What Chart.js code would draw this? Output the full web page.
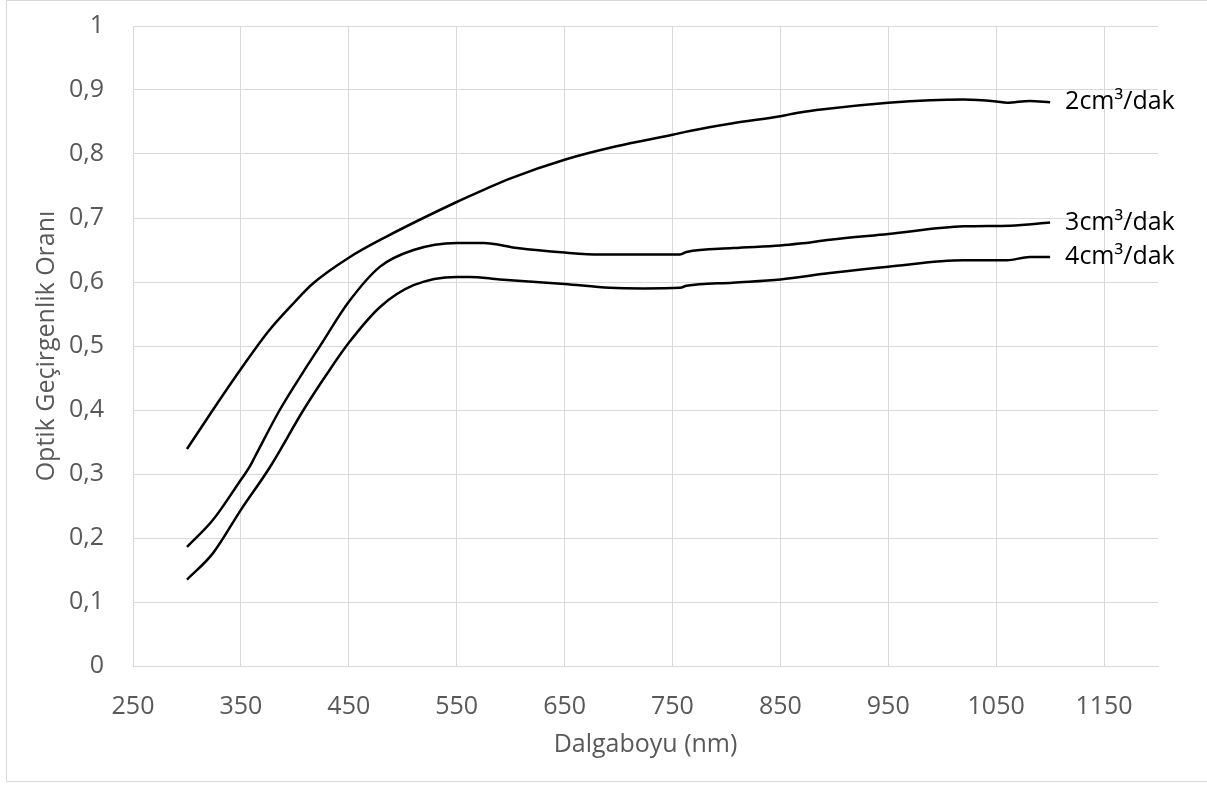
<!DOCTYPE html>
<html>
<head>
<meta charset="utf-8">
<script src="https://cdn.jsdelivr.net/npm/chart.js@4/dist/chart.umd.min.js"></script>
<style>
  html, body { margin: 0; padding: 0; background: #ffffff; }
  #wrap { position: relative; width: 1207px; height: 785px; }
</style>
</head>
<body>
<div id="wrap"><canvas id="c" width="1207" height="785"></canvas></div>
<script>
// ---- data ----
const seriesNames = ["2cm³/dak", "3cm³/dak", "4cm³/dak"];

const wl2 = [300, 324, 350, 375, 400, 417, 450, 485, 550, 575, 600, 650, 698, 750, 766, 806, 850, 868, 890, 950, 989, 1020, 1050, 1060, 1081, 1100];
const val2 = [0.339, 0.400, 0.464, 0.522, 0.569, 0.598, 0.638, 0.671, 0.725, 0.744, 0.762, 0.791, 0.812, 0.830, 0.836, 0.848, 0.859, 0.865, 0.870, 0.880, 0.884, 0.885, 0.882, 0.880, 0.883, 0.881];

const wl3 = [300, 324, 350, 358, 363, 386, 408, 423, 450, 479, 510, 550, 575, 606, 650, 683, 757, 763, 806, 850, 868, 896, 950, 1020, 1063, 1100];
const val3 = [0.186, 0.228, 0.291, 0.311, 0.327, 0.400, 0.460, 0.499, 0.569, 0.624, 0.650, 0.661, 0.661, 0.653, 0.646, 0.643, 0.643, 0.647, 0.653, 0.657, 0.660, 0.666, 0.675, 0.687, 0.688, 0.693];

const wl4 = [300, 324, 350, 377, 408, 430, 450, 479, 510, 550, 562, 590, 650, 692, 723, 757, 763, 806, 850, 896, 950, 1020, 1060, 1081, 1100];
const val4 = [0.135, 0.176, 0.244, 0.311, 0.400, 0.457, 0.505, 0.561, 0.595, 0.608, 0.608, 0.604, 0.597, 0.591, 0.590, 0.591, 0.594, 0.599, 0.604, 0.614, 0.624, 0.634, 0.634, 0.639, 0.639];

const xTicks = [250, 350, 450, 550, 650, 750, 850, 950, 1050, 1150];
const yTicks = [0, 0.1, 0.2, 0.3, 0.4, 0.5, 0.6, 0.7, 0.8, 0.9, 1];

const xTitle = "Dalgaboyu (nm)";
const yTitle = "Optik Geçirgenlik Oranı";

// ---- chart ----
const FONT = "'Open Sans', 'DejaVu Sans', sans-serif";
const GREY = "#595959";
const GRID = "#d9d9d9";

function pts(xs, ys) { return xs.map((x, i) => ({ x: x, y: ys[i] })); }

const lineLabels = {
  id: 'lineLabels',
  afterDatasetsDraw(chart) {
    const ctx = chart.ctx;
    ctx.save();
    ctx.font = "25px " + FONT;
    ctx.fillStyle = "#000000";
    ctx.textBaseline = "middle";
    ctx.textAlign = "left";
    chart.data.datasets.forEach((ds, i) => {
      const meta = chart.getDatasetMeta(i);
      const last = meta.data[meta.data.length - 1];
      ctx.fillText(ds.label, last.x + 15, last.y);
    });
    ctx.restore();
  }
};

const frame = {
  id: 'frame',
  afterDraw(chart) {
    const ctx = chart.ctx;
    ctx.save();
    ctx.strokeStyle = GRID;
    ctx.lineWidth = 1;
    ctx.strokeRect(6.5, 0.5, 1220, 781);
    ctx.restore();
  }
};

const commonDs = {
  borderColor: "#000000",
  backgroundColor: "#000000",
  borderWidth: 2.5,
  pointRadius: 0,
  fill: false,
  cubicInterpolationMode: 'monotone'
};

new Chart(document.getElementById('c'), {
  type: 'line',
  data: {
    datasets: [
      Object.assign({ label: seriesNames[0], data: pts(wl2, val2) }, commonDs),
      Object.assign({ label: seriesNames[1], data: pts(wl3, val3) }, commonDs),
      Object.assign({ label: seriesNames[2], data: pts(wl4, val4) }, commonDs)
    ]
  },
  options: {
    responsive: false,
    animation: false,
    devicePixelRatio: 1,
    layout: { padding: { left: 0, right: 49, top: 26, bottom: 0 } },
    plugins: { legend: { display: false }, tooltip: { enabled: false } },
    scales: {
      x: {
        type: 'linear',
        min: 250,
        max: 1200,
        afterFit(scale) { scale.height = 119; scale.paddingLeft = 0; scale.paddingRight = 0; },
        afterBuildTicks(scale) { scale.ticks = xTicks.map(v => ({ value: v })); },
        grid: { color: GRID, lineWidth: 1, drawTicks: false },
        border: { display: true, color: GRID },
        ticks: {
          color: GREY,
          font: { family: FONT, size: 25 },
          padding: 26,
          maxRotation: 0,
          autoSkip: false,
          callback: (v) => String(v)
        },
        title: {
          display: true,
          text: xTitle,
          color: GREY,
          font: { family: FONT, size: 25 },
          padding: { top: 0, bottom: 25 }
        }
      },
      y: {
        type: 'linear',
        min: 0,
        max: 1,
        afterFit(scale) { scale.width = 133; scale.paddingTop = 0; scale.paddingBottom = 0; },
        afterBuildTicks(scale) { scale.ticks = yTicks.map(v => ({ value: v })); },
        grid: { color: GRID, lineWidth: 1, drawTicks: false },
        border: { display: false },
        ticks: {
          color: GREY,
          font: { family: FONT, size: 25 },
          padding: 29,
          callback: (v) => (Math.round(v * 10) / 10).toString().replace('.', ',')
        },
        title: {
          display: true,
          text: yTitle,
          color: GREY,
          font: { family: FONT, size: 25 },
          padding: { top: 32, bottom: 0 }
        }
      }
    }
  },
  plugins: [lineLabels, frame]
});
</script>
</body>
</html>
